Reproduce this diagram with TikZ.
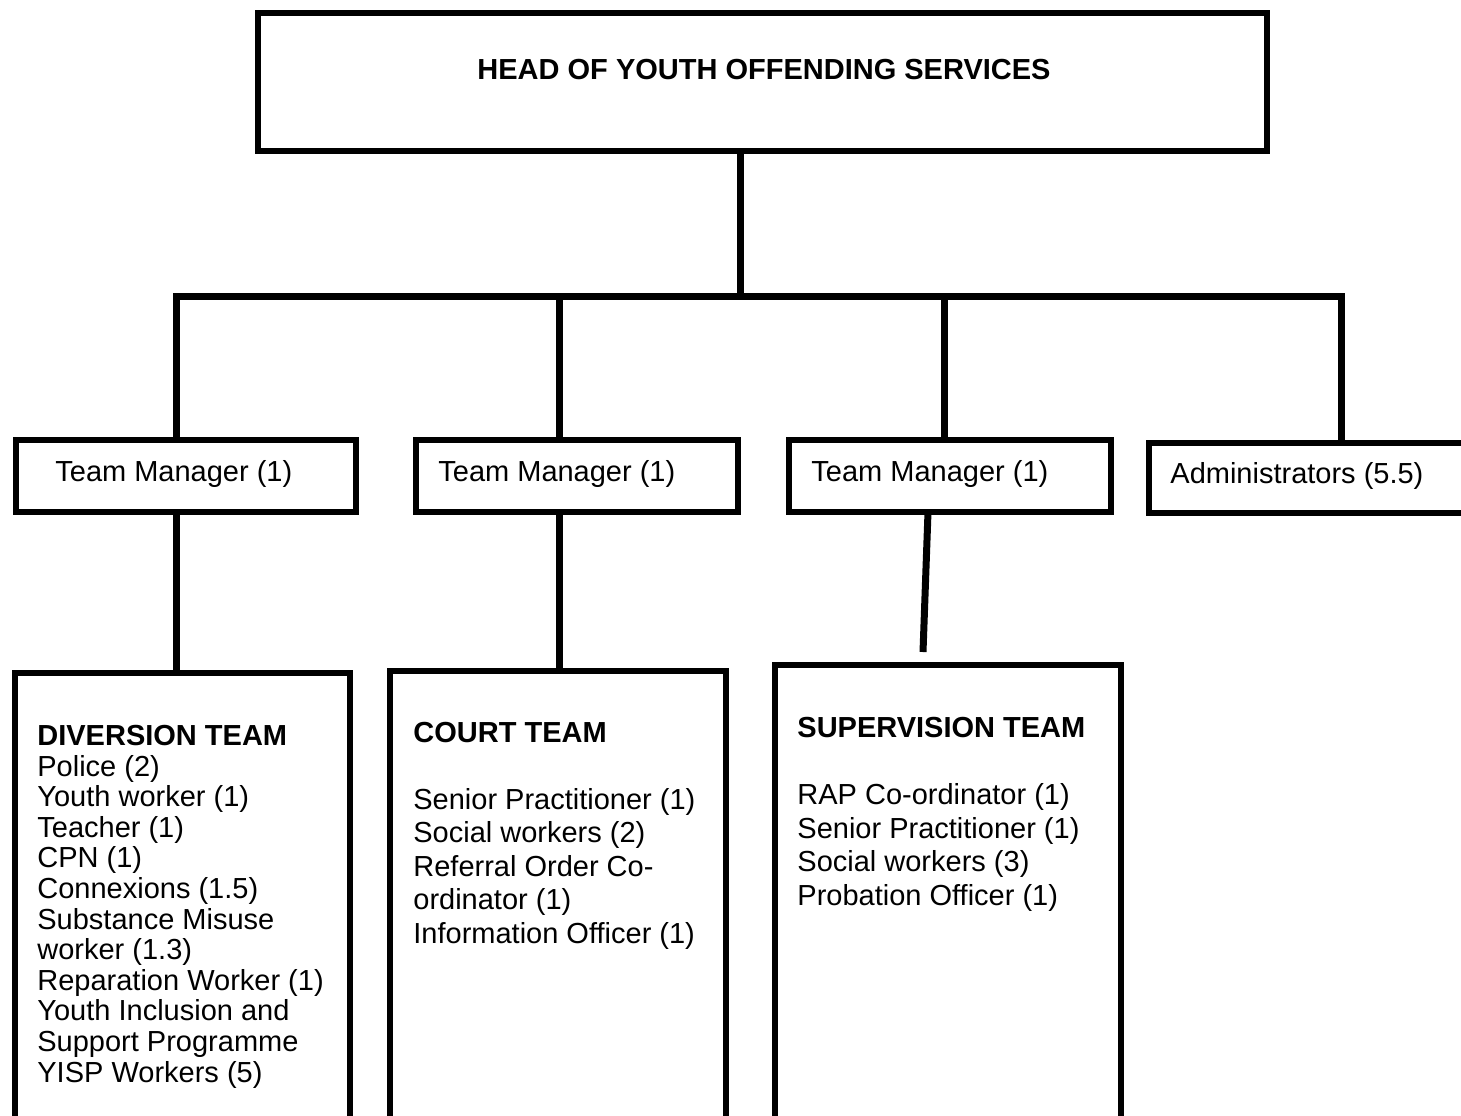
\documentclass[tikz,border=0pt]{standalone}
\usepackage{fontspec}
\setmainfont{Liberation Sans}
\usetikzlibrary{calc}
\tikzset{
  box/.style={draw, line width=3pt, outer sep=0pt, inner sep=0pt, anchor=north west},
  link/.style={line width=3.5pt},
  txt/.style={inner sep=0pt, anchor=base west, align=left},
  tight/.style={font=\fontsize{14.5pt}{15.3pt}\selectfont},
  loose/.style={font=\fontsize{14.5pt}{16.75pt}\selectfont}
}

\begin{document}
\begin{tikzpicture}[x=0.5pt, y=-0.5pt]
		%%%%% START %%%%%
		\useasboundingbox (0, 0) rectangle (1461, 1115);
		
		% top
		\node[box, minimum width=504.5pt, minimum height=69pt] (head) at (258, 13) {};
		\node[txt, tight, anchor=base] (headtxt) at (764, 79.5) {\textbf{HEAD OF YOUTH OFFENDING SERVICES}};
		
		% managers
		\node[box, minimum width=170pt, minimum height=35.75pt] (tm1) at (16, 440) {};
		\node[box, minimum width=161.25pt, minimum height=35.75pt] (tm2) at (415.5, 440) {};
		\node[box, minimum width=161pt, minimum height=36pt] (tm3) at (789, 440) {};
		\node[box, minimum width=158pt, minimum height=35pt] (admin) at (1148.5, 443) {};
		\node[txt, tight] (tm1txt) at (55, 481) {Team Manager (1)};
		\node[txt, tight] (tm2txt) at (438, 481) {Team Manager (1)};
		\node[txt, tight] (tm3txt) at (811, 481) {Team Manager (1)};
		\node[txt, tight] (admintxt) at (1170, 483) {Administrators (5.5)};
		
		% teams (text placed at its last baseline)
		\node[box, minimum width=167.75pt, minimum height=223.5pt] (div) at (14.5, 673) {};
		\node[box, minimum width=168pt, minimum height=225pt] (court) at (390, 670.5) {};
		\node[box, minimum width=173pt, minimum height=228pt] (sup) at (774.5, 664.5) {};
		
		\node[txt, tight] (divtxt) at (37, 1082) {\textbf{DIVERSION TEAM}\\
			Police (2)\\
			Youth worker (1)\\
			Teacher (1)\\
			CPN (1)\\
			Connexions (1.5)\\
			Substance Misuse\\
			worker (1.3)\\
			Reparation Worker (1)\\
			Youth Inclusion and\\
			Support Programme\\
			YISP Workers (5)};
		\node[txt, loose] (courttxt) at (413, 943) {\textbf{COURT TEAM}\\[16.75pt]
			Senior Practitioner (1)\\
			Social workers (2)\\
			Referral Order Co-\\
			ordinator (1)\\
			Information Officer (1)};
		\node[txt, loose] (suptxt) at (797, 905) {\textbf{SUPERVISION TEAM}\\[16.75pt]
			RAP Co-ordinator (1)\\
			Senior Practitioner (1)\\
			Social workers (3)\\
			Probation Officer (1)};
		
		% lines
		\coordinate (j0) at (740, 296);
		\coordinate (j1) at (176, 296);
		\coordinate (j2) at (559.5, 296);
		\coordinate (j3) at (944, 296);
		\coordinate (j4) at (1341, 296);
		\coordinate (s1) at (928, 512);
		\coordinate (s2) at (923, 652);
		
		\draw[link] (head.south -| j0) -- (j0);
		\draw[link] (tm1.north -| j1) -- (j1) -- (j4) -- (admin.north -| j4);
		\draw[link] (j2) -- (tm2.north -| j2);
		\draw[link] (j3) -- (tm3.north -| j3);
		
		\draw[link] (tm1.south -| j1) -- (div.north -| j1);
		\draw[link] (tm2.south -| j2) -- (court.north -| j2);
		\draw[link] (tm3.south -| s1) -- (s2);
		%%%%% END %%%%%
	\end{tikzpicture}
\end{document}
